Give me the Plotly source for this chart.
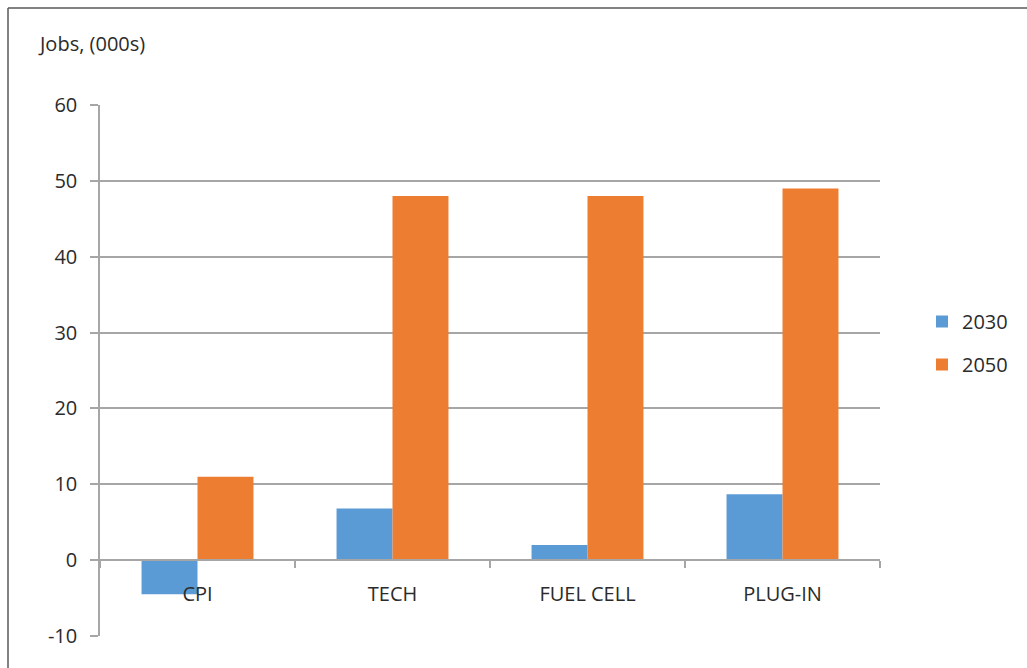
import plotly.graph_objects as go

# Job impact by scenario, thousands of jobs
categories = ["CPI", "TECH", "FUEL CELL", "PLUG-IN"]
jobs_2030 = [-4.5, 6.8, 2.0, 8.7]
jobs_2050 = [11.0, 48.0, 48.0, 49.0]
y_ticks = [-10, 0, 10, 20, 30, 40, 50, 60]
y_tick_text = ["-10", "0", "10", "20", "30", "40", "50", "60"]

BLUE = "#5B9BD5"
ORANGE = "#ED7D31"
GRID = "#A6A6A6"
TEXT = "#2B2B2B"
FONT = "Open Sans"
FS = 20

W, H = 1027, 668
L, R, T, B = 100, 147, 105, 32
plot_w = W - L - R
plot_h = H - T - B

fig = go.Figure()
fig.add_trace(go.Bar(
    x=categories, y=jobs_2030, name="2030", marker_color=BLUE,
    marker_line_width=0, legendgroup="a",
))
fig.add_trace(go.Bar(
    x=categories, y=jobs_2050, name="2050", marker_color=ORANGE,
    marker_line_width=0, legendgroup="b",
))

# category axis sits on the zero line
zero_pos = (0 - (-10)) / 70.0

fig.update_layout(
    width=W, height=H,
    margin=dict(l=L, r=R, t=T, b=B, pad=0),
    paper_bgcolor="white", plot_bgcolor="white",
    font=dict(family=FONT, size=FS, color=TEXT),
    barmode="group", bargap=0.426, bargroupgap=0,
    showlegend=True,
    legend=dict(
        x=(922 - L) / plot_w, xanchor="left",
        y=1 - (302 - T) / plot_h, yanchor="top",
        traceorder="grouped", tracegroupgap=14,
        font=dict(family=FONT, size=FS, color=TEXT),
        itemwidth=30, bgcolor="rgba(0,0,0,0)",
    ),
    xaxis=dict(
        anchor="free", position=zero_pos,
        showline=True, linecolor=GRID, linewidth=1.5,
        ticks="outside", tickson="boundaries", ticklen=7,
        tickcolor=GRID, tickwidth=1.5,
        showgrid=False, zeroline=False,
        ticklabelstandoff=16,
        tickfont=dict(family=FONT, size=FS, color=TEXT),
    ),
    yaxis=dict(
        range=[-10, 60], tickvals=y_ticks, ticktext=y_tick_text,
        showline=True, linecolor=GRID, linewidth=1.5,
        ticks="outside", ticklen=8, tickcolor=GRID, tickwidth=1.5,
        showgrid=True, gridcolor=GRID, gridwidth=1.5,
        zeroline=False, ticklabelstandoff=9,
        tickfont=dict(family=FONT, size=FS, color=TEXT),
    ),
    annotations=[dict(
        text="Jobs, (000s)", xref="paper", yref="paper",
        x=(36 - L) / plot_w, y=1 + (T - 44) / plot_h,
        xanchor="left", yanchor="middle", showarrow=False,
        font=dict(family=FONT, size=FS, color=TEXT),
    )],
    shapes=[
        dict(type="line", xref="paper", yref="paper",
             x0=(8 - L) / plot_w, x1=(W + 10 - L) / plot_w,
             y0=1 + (T - 8) / plot_h, y1=1 + (T - 8) / plot_h,
             line=dict(color="#595959", width=1.5)),
        dict(type="line", xref="paper", yref="paper",
             x0=(8 - L) / plot_w, x1=(8 - L) / plot_w,
             y0=1 + (T - 8) / plot_h, y1=-(B + 10) / plot_h,
             line=dict(color="#595959", width=1.5)),
    ],
)

fig.write_html("out.html")
